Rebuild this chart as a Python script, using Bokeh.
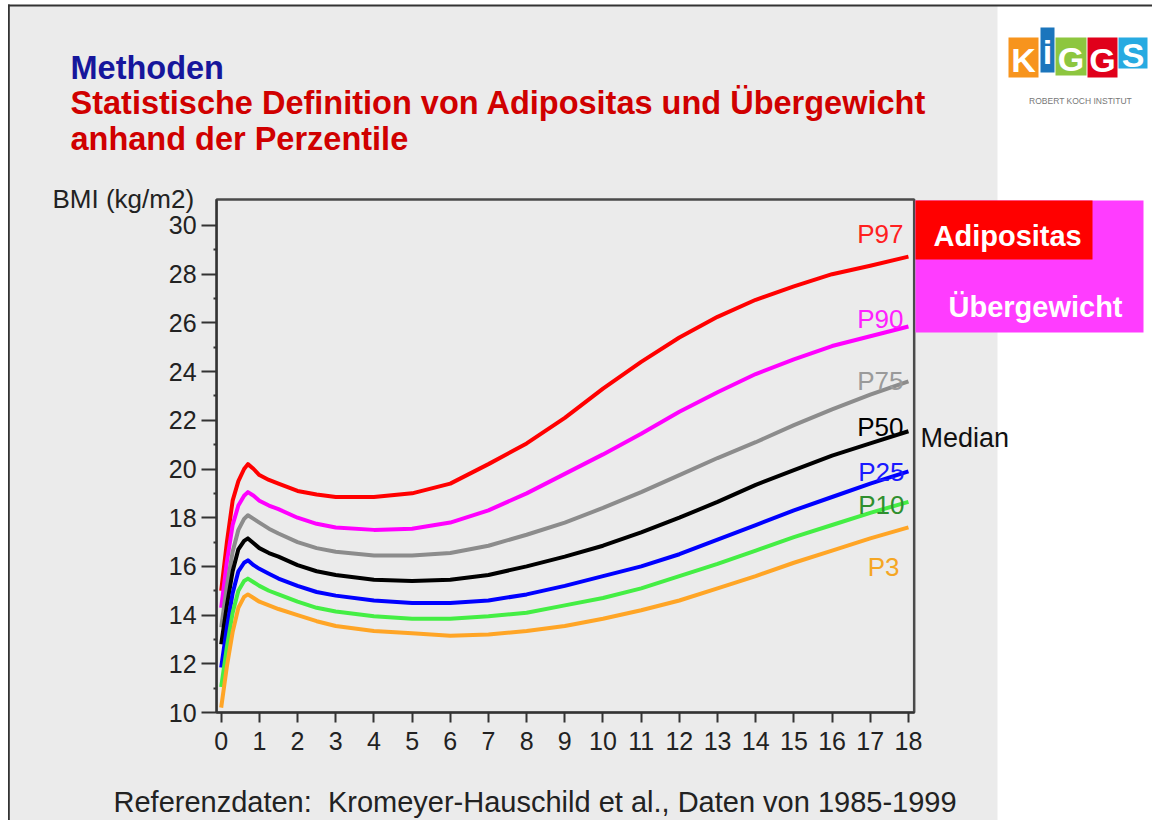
from bokeh.plotting import figure
from bokeh.models import Range1d, FixedTicker, Label, BoxAnnotation
from bokeh.embed import file_html
from bokeh.resources import INLINE

# ---------------- data ----------------
age = [0, 0.15, 0.3, 0.45, 0.6, 0.7, 0.85, 1.0, 1.25, 1.5, 2, 2.5, 3, 4, 5, 6,
       7, 8, 9, 10, 11, 12, 13, 14, 15, 16, 17, 18]

p97 = [15.0, 17.0, 18.7, 19.5, 20.0, 20.2, 20.0, 19.75, 19.55, 19.4, 19.1, 18.95, 18.85, 18.85, 19.0, 19.4,
       20.2, 21.05, 22.1, 23.3, 24.4, 25.4, 26.25, 26.95, 27.5, 28.0, 28.35, 28.72]
p90 = [14.3, 16.2, 17.7, 18.5, 18.9, 19.05, 18.9, 18.7, 18.5, 18.35, 18.0, 17.75, 17.6, 17.5, 17.55, 17.8,
       18.3, 19.0, 19.8, 20.6, 21.45, 22.35, 23.15, 23.9, 24.5, 25.05, 25.45, 25.85]
p75 = [13.5, 15.2, 16.6, 17.5, 17.95, 18.1, 17.95, 17.8, 17.55, 17.35, 17.0, 16.75, 16.6, 16.45, 16.45, 16.55,
       16.85, 17.3, 17.8, 18.4, 19.05, 19.75, 20.45, 21.1, 21.8, 22.45, 23.05, 23.6]
p50 = [12.8, 14.4, 15.8, 16.7, 17.05, 17.15, 16.95, 16.75, 16.55, 16.4, 16.05, 15.8, 15.65, 15.45, 15.4, 15.45,
       15.65, 16.0, 16.4, 16.85, 17.4, 18.0, 18.65, 19.35, 19.95, 20.55, 21.05, 21.55]
p25 = [11.85, 13.5, 14.9, 15.8, 16.15, 16.25, 16.05, 15.9, 15.7, 15.5, 15.2, 14.95, 14.8, 14.6, 14.5, 14.5,
       14.6, 14.85, 15.2, 15.6, 16.0, 16.5, 17.1, 17.7, 18.3, 18.85, 19.4, 19.9]
p10 = [11.05, 12.7, 14.1, 15.0, 15.4, 15.5, 15.35, 15.2, 15.0, 14.85, 14.55, 14.3, 14.15, 13.95, 13.85, 13.85,
       13.95, 14.1, 14.4, 14.7, 15.1, 15.6, 16.1, 16.65, 17.2, 17.7, 18.2, 18.65]
p3 = [10.2, 11.9, 13.3, 14.3, 14.75, 14.85, 14.7, 14.55, 14.4, 14.25, 14.0, 13.75, 13.55, 13.35, 13.25, 13.15,
      13.2, 13.35, 13.55, 13.85, 14.2, 14.6, 15.1, 15.6, 16.15, 16.65, 17.15, 17.6]

series_names = ["P97", "P90", "P75", "P50", "P25", "P10", "P3"]
series_values = [p97, p90, p75, p50, p25, p10, p3]
line_colors = ["#ff0000", "#ff00ff", "#8c8c8c", "#000000", "#0000ff", "#44ee44", "#ffa526"]
label_colors = ["#ff2020", "#ff20ff", "#9a9a9a", "#000000", "#1a1aff", "#2f8f2f", "#f5a623"]

x_ticks = list(range(0, 19))
y_ticks = list(range(10, 31, 2))
y_minor = list(range(11, 30, 2))

X_MIN, X_MAX = -0.12, 18.15      # plot box in data units
Y_MIN, Y_MAX = 10.0, 31.07

FONT = "Liberation Sans"
GRAY = "#ebebeb"

# ---------------- figure ----------------
W, H = 1152, 820
# frame covers the whole canvas; data ranges chosen so the plot box sits where the reference has it
p = figure(width=W, height=H, output_backend="svg", toolbar_location=None,
           x_range=Range1d(-5.780, 24.392), y_range=Range1d(5.565, 39.240),
           min_border_left=0, min_border_right=0, min_border_top=0, min_border_bottom=0)
p.background_fill_color = "#ffffff"
p.border_fill_color = "#ffffff"
p.outline_line_color = None
p.xgrid.visible = False
p.ygrid.visible = False

xa = p.xaxis[0]
ya = p.yaxis[0]
xa.fixed_location = Y_MIN
xa.bounds = (X_MIN, X_MAX)
ya.fixed_location = X_MIN
ya.bounds = (Y_MIN, Y_MAX)

for ax in (xa, ya):
    ax.axis_line_width = 2
    ax.axis_line_color = "#333333"
    ax.major_tick_line_color = "#333333"
    ax.major_tick_line_width = 2
    ax.minor_tick_line_color = "#333333"
    ax.minor_tick_line_width = 2
    ax.major_tick_in = 0
    ax.minor_tick_in = 0
    ax.major_label_text_font = FONT
    ax.major_label_text_font_size = "25px"
    ax.major_label_text_color = "#222222"

xa.ticker = FixedTicker(ticks=x_ticks)
xa.major_tick_out = 10
xa.minor_tick_out = 0
xa.major_label_standoff = 9
ya.ticker = FixedTicker(ticks=y_ticks, minor_ticks=y_minor)
ya.major_tick_out = 15
ya.minor_tick_out = 3
ya.major_label_standoff = 5

def sx(X):
    return X
def sy(Y):
    return H - Y

def box(l, t, r, b, color, level="annotation"):
    p.add_layout(BoxAnnotation(left=sx(l), right=sx(r), top=sy(t), bottom=sy(b),
                               left_units="screen", right_units="screen",
                               top_units="screen", bottom_units="screen",
                               fill_color=color, fill_alpha=1.0, line_alpha=0, level=level))

def label(X, Y, text, size, color, bold=False, align="left", baseline="alphabetic"):
    p.add_layout(Label(x=sx(X), y=sy(Y), x_units="screen", y_units="screen", text=text,
                       text_font=FONT, text_font_size=size, text_color=color,
                       text_font_style="bold" if bold else "normal",
                       text_align=align, text_baseline=baseline))

# slide background: gray panel, white strip on the right, dark border lines
box(8, 5, 997, 830, GRAY, level="underlay")
box(7.5, 4, 9.3, 830, "#333333", level="underlay")
box(7.5, 4, 1160, 6, "#333333", level="underlay")

# top and right border of the plot box (data units)
p.add_layout(BoxAnnotation(left=X_MIN, right=X_MAX, bottom=Y_MIN, top=Y_MAX,
                           fill_alpha=0, line_color="#4a4a4a", line_alpha=1.0,
                           line_width=2.5, level="underlay"))

for vals, c in zip(series_values, line_colors):
    p.line(age, vals, line_width=4, color=c, line_join="round")

# titles
label(70, 67, "Methoden", "32.5px", "#16169c", bold=True)
label(70, 102, "Statistische Definition von Adipositas und Übergewicht", "32.5px", "#d00000", bold=True)
label(70, 138, "anhand der Perzentile", "32.5px", "#d00000", bold=True)

label(52, 198, "BMI (kg/m2)", "26px", "#222222")

# percentile labels
pl_y = [233, 318, 380, 426, 471, 504, 566]
pl_x = [903, 903, 903, 903, 904, 904, 899]
for name, c, X, Y in zip(series_names, label_colors, pl_x, pl_y):
    label(X, Y, name, "26px", c, align="right")
label(920, 437, "Median", "27px", "#111111")

# category boxes
box(915, 200, 1143, 332, "#ff3cff")
box(915, 200, 1092, 259, "#ff0000")
label(933, 235, "Adipositas", "29px", "#ffffff", bold=True)
label(948, 306, "Übergewicht", "29px", "#ffffff", bold=True)

# KiGGS logo
logo = [(1008, 37, 1038, 77, "#f7941d", "K"), (1040, 27, 1054, 72, "#1b75bc", "i"),
        (1055, 37, 1086, 75, "#8dc63f", "G"), (1087, 37, 1117, 77, "#e0001b", "G"),
        (1118, 37, 1147, 68, "#27aae1", "S")]
for l, t, r, b, c, ch in logo:
    box(l, t, r, b, c)
for l, t, r, b, c, ch in logo:
    label((l + r) / 2, (t + b) / 2 + 2, ch, "34px", "#ffffff", bold=True, align="center", baseline="middle")
label(1080, 100, "ROBERT KOCH INSTITUT", "8.5px", "#777777", align="center", baseline="middle")

# footer
label(113, 801, "Referenzdaten:\u00a0 Kromeyer-Hauschild et al., Daten von 1985-1999", "29px", "#222222")

open("out.html", "w").write(file_html(p, INLINE))
